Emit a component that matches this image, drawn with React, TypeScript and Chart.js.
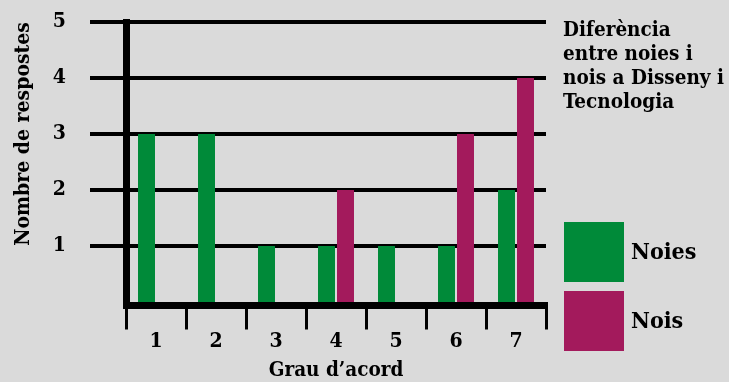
import React, { useEffect, useRef } from 'react';
import { Chart, registerables } from 'chart.js';

Chart.register(...registerables);

const categories = ['1', '2', '3', '4', '5', '6', '7'];
const noiesValues = [3, 3, 1, 1, 1, 1, 2];
const noisValues = [0, 0, 0, 2, 0, 3, 4];
const yTickValues = [1, 2, 3, 4, 5];
const seriesLabels = ['Noies', 'Nois'];
const titleLines = ['Diferència', 'entre noies i', 'nois a Disseny i', 'Tecnologia'];
const yAxisTitle = 'Nombre de respostes';
const xAxisTitle = 'Grau d’acord';

const FONT = '"DejaVu Serif Condensed", "DejaVu Serif", serif';
const GREEN = '#008a39';
const MAGENTA = '#a31a5c';
const BG = '#dadada';

const sidePanel = {
  id: 'sidePanel',
  afterDraw(chart: any) {
    const { ctx, chartArea } = chart;
    const x0 = chartArea.right + 17;
    ctx.save();
    ctx.fillStyle = '#000';
    ctx.textAlign = 'left';
    ctx.textBaseline = 'alphabetic';
    ctx.font = `bold 20.5px ${FONT}`;
    titleLines.forEach((line, i) => {
      ctx.fillText(line, x0, chartArea.top + 14 + i * 24);
    });
    chart.data.datasets.forEach((ds: any, i: number) => {
      const top = chartArea.top + 200 + i * 69;
      ctx.fillStyle = ds.backgroundColor;
      ctx.fillRect(x0 + 1, top, 60, 60);
      ctx.fillStyle = '#000';
      ctx.font = `bold 23px ${FONT}`;
      ctx.fillText(ds.label, x0 + 68, top + 37);
    });
    ctx.restore();
  },
};

export default function App() {
  const ref = useRef<HTMLCanvasElement | null>(null);

  useEffect(() => {
    if (!ref.current) return;
    const chart = new Chart(ref.current, {
      type: 'bar',
      data: {
        labels: categories,
        datasets: [
          {
            label: seriesLabels[0],
            data: noiesValues,
            backgroundColor: GREEN,
            borderWidth: 0,
            categoryPercentage: 0.633,
            barPercentage: 0.895,
          },
          {
            label: seriesLabels[1],
            data: noisValues,
            backgroundColor: MAGENTA,
            borderWidth: 0,
            categoryPercentage: 0.633,
            barPercentage: 0.895,
          },
        ],
      },
      options: {
        responsive: false,
        animation: false,
        devicePixelRatio: 1,
        layout: { padding: { top: 22, right: 183, left: 0, bottom: 0 } },
        plugins: {
          legend: { display: false },
          tooltip: { enabled: false },
        },
        scales: {
          x: {
            offset: true,
            grid: {
              display: true,
              offset: true,
              drawOnChartArea: false,
              drawTicks: true,
              tickLength: 24,
              color: '#000',
              lineWidth: 3,
            },
            border: { display: true, color: '#000', width: 7 },
            ticks: {
              color: '#000',
              padding: 2,
              maxRotation: 0,
              autoSkip: false,
              font: { family: FONT, size: 21, weight: 'bold', lineHeight: 1 },
            },
            title: {
              display: true,
              text: xAxisTitle,
              color: '#000',
              font: { family: FONT, size: 20.5, weight: 'bold', lineHeight: 1 },
              padding: { top: 0, bottom: 1 },
            },
            afterFit: (s: any) => {
              s.height = 76.5;
            },
          },
          y: {
            min: -0.0625,
            max: 5,
            bounds: 'ticks',
            ticks: {
              stepSize: 1,
              includeBounds: true,
              color: '#000',
              padding: 24,
              font: { family: FONT, size: 21, weight: 'bold', lineHeight: 1 },
              callback: (v: any) => (yTickValues.includes(Number(v)) ? String(v) : ''),
            },
            grid: {
              color: (c: any) => (c.tick && c.tick.value < 0.5 ? 'rgba(0,0,0,0)' : '#000'),
              lineWidth: 4,
              drawTicks: true,
              tickLength: 36,
            },
            border: { display: true, color: '#000', width: 7 },
            title: {
              display: true,
              text: yAxisTitle,
              align: 'end',
              color: '#000',
              font: { family: FONT, size: 21, weight: 'bold', lineHeight: 1 },
              padding: { top: 13, bottom: 0 },
            },
            afterFit: (s: any) => {
              s.width = 126;
              s.paddingTop = 0;
              s.paddingBottom = 0;
            },
          },
        },
      },
      plugins: [sidePanel],
    } as any);
    return () => chart.destroy();
  }, []);

  return (
    <div
      style={{
        position: 'fixed',
        left: 0,
        top: 0,
        width: 729,
        height: 382,
        background: BG,
      }}
    >
      <canvas ref={ref} width={729} height={382} style={{ display: 'block' }} />
    </div>
  );
}
